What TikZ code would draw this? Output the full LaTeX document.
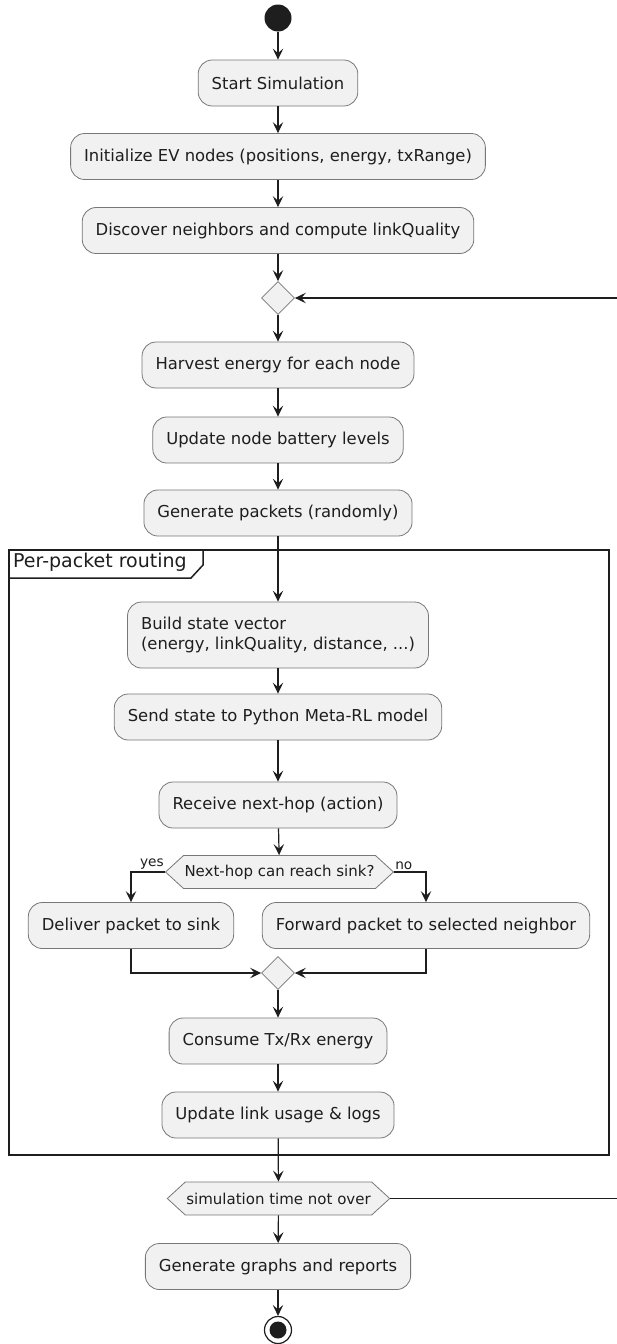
\documentclass[tikz,border=0pt]{standalone}
\usepackage{fontspec}
\setmainfont{DejaVu Sans}
\usetikzlibrary{arrows.meta,shapes.geometric,shapes.symbols,positioning}
\definecolor{boxfill}{HTML}{F1F1F1}
\definecolor{boxline}{HTML}{777777}
\definecolor{ink}{HTML}{1E1E1E}
\tikzset{
  act/.style={rectangle, rounded corners=14, draw=boxline, fill=boxfill, line width=0.8,
    minimum height=46, inner xsep=13.5, text=ink, font=\fontsize{16.4}{19.5}\selectfont},
  hexa/.style={signal, signal to=east and west, signal pointer angle=85, draw=boxline,
    fill=boxfill, line width=0.8, minimum height=33, inner xsep=1, text=ink,
    font=\fontsize{15}{18}\selectfont},
  merge/.style={diamond, draw=boxline, fill=boxfill, line width=0.8, minimum size=33, inner sep=0},
  arr/.style={draw=ink, line width=1.2, -{Stealth[length=11, width=10.5, inset=4.5]}},
  small/.style={text=ink, font=\fontsize{13.7}{16}\selectfont, inner sep=1}
}
\begin{document}
\begin{tikzpicture}[x=1pt, y=-1pt]
		\useasboundingbox (0,0) rectangle (616,1344);
		\node[circle, fill=ink, minimum size=27, inner sep=0] (start) at (278,18) {};
		\node[act] (sim) at (278,83) {Start Simulation};
		\node[act] (init) at (278,156.5) {Initialize EV nodes (positions, energy, txRange)};
		\node[act] (disc) at (278,230.5) {Discover neighbors and compute linkQuality};
		\node[merge] (d1) at (278,298) {};
		\node[act] (harv) at (278,365) {Harvest energy for each node};
		\node[act] (batt) at (278,440) {Update node battery levels};
		\node[act] (gen) at (278,513) {Generate packets (randomly)};
		\draw (start) edge[arr] (sim) (sim) edge[arr] (init) (init) edge[arr] (disc)
		  (disc) edge[arr] (d1) (d1) edge[arr] (harv) (harv) edge[arr] (batt) (batt) edge[arr] (gen);
		
		% per-packet frame
		\draw[ink, line width=2] (9,550) rectangle (609,1155);
		\node[anchor=north west, text=ink, font=\fontsize{19}{22}\selectfont, inner sep=0] (ftitle) at (13,553) {Per-packet routing};
		\draw[ink, line width=1.5] (9,578) -- (191,578) -- (203,565) -- (203,550);
		
		\node[act, align=left, minimum height=66, inner ysep=2] (build) at (278,635) {Build state vector\\(energy, linkQuality, distance, ...)};
		\node[act] (send) at (278,717) {Send state to Python Meta-RL model};
		\node[act] (recv) at (278,805) {Receive next-hop (action)};
		\node[hexa] (hop) at (279.5,872) {Next-hop can reach sink?};
		\node[act] (deliver) at (131,925.5) {Deliver packet to sink};
		\node[act] (fwd) at (426,925.5) {Forward packet to selected neighbor};
		\node[merge] (d2) at (278,973) {};
		\node[act] (consume) at (278,1041) {Consume Tx/Rx energy};
		\node[act] (logs) at (278,1115) {Update link usage \& logs};
		\draw (gen) edge[arr] (build) (build) edge[arr] (send) (send) edge[arr] (recv) (recv) edge[arr] (hop);
		\draw[arr] (hop.west) -| (deliver.north);
		\draw[arr] (hop.east) -| (fwd.north);
		\node[small, anchor=south east] (yes) at ([yshift=1]hop.west) {yes};
		\node[small, anchor=south west] (no) at ([yshift=1]hop.east) {no};
		\draw[arr] (deliver.south) |- (d2.west);
		\draw[arr] (fwd.south) |- (d2.east);
		\draw (d2) edge[arr] (consume) (consume) edge[arr] (logs);
		
		\node[hexa] (cond) at (278.5,1198.5) {simulation time not over};
		\node[act] (graphs) at (278,1266.5) {Generate graphs and reports};
		\node[circle, draw=ink, fill=white, line width=1.2, minimum size=27, inner sep=0] (stop) at (278,1330) {};
		\node[circle, fill=ink, minimum size=17, inner sep=0] (stopdot) at (stop) {};
		\draw (logs) edge[arr] (cond) (cond) edge[arr] (graphs) (graphs) edge[arr] (stop);
		\coordinate (back) at (630,1198.5);
		\draw[arr] (cond.east) -- (back) |- (d1.east);
		
		\end{tikzpicture}
\end{document}
